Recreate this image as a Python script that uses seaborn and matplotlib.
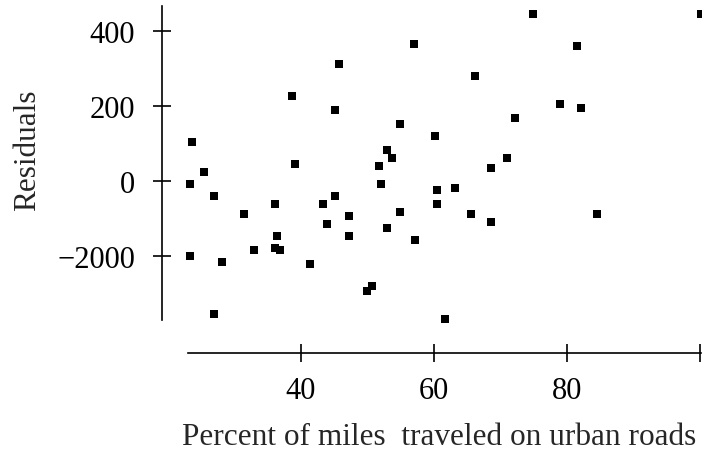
import matplotlib
matplotlib.use("Agg")
import matplotlib.pyplot as plt
import seaborn as sns
import pandas as pd

# Residuals against percent of miles traveled on urban roads
urban_pct = [23.6, 23.3, 25.4, 26.9, 23.3, 28.1, 26.9, 31.5, 33.0, 36.2,
             36.5, 36.2, 36.9, 38.65, 39.2, 41.35, 43.4, 44.0, 45.2, 45.2,
             45.8, 47.3, 47.3, 50.0, 50.7, 51.8, 52.1, 53.0, 53.7, 53.0,
             54.9, 54.9, 57.0, 57.2, 60.25, 60.55, 60.55, 61.7, 63.25, 65.6,
             66.2, 68.6, 68.6, 71.0, 72.2, 74.9, 78.9, 81.55, 82.15, 84.55,
             100.2]
residuals = [104, -7, 24, -40, -199, -216, -355, -88, -184, -61,
             -147, -178, -183, 227, 46, -221, -61, -115, -40, 190,
             313, -93, -147, -292, -280, 41, -7, 83, 61, -125,
             -81, 153, 366, -157, 121, -23, -61, -366, -19, -88,
             281, 35, -109, 61, 168, 446, 205, 361, 195, -88,
             446]

x_ticks = [40, 60, 80, 100]
x_tick_labels = ["40", "60", "80", ""]
y_ticks = [400, 200, 0, -200]
y_tick_labels = ["400", "200", "0", "\u22122000"]

df = pd.DataFrame({"urban": urban_pct, "resid": residuals})

sns.set_style("white")
plt.rcParams["font.family"] = ["Liberation Serif", "DejaVu Serif"]
plt.rcParams["font.size"] = 22

W, H = 702, 452
fig = plt.figure(figsize=(W / 100, H / 100), dpi=100)
# axes box in pixels: left 162, right 701, top 7, bottom 354
ax = fig.add_axes([162 / W, (H - 354) / H, (701 - 162) / W, (354 - 7) / H])

sns.scatterplot(data=df, x="urban", y="resid", marker="s", s=38,
                color="black", linewidth=0, ax=ax, clip_on=False, zorder=3)

ax.set_xlim(19.16, 100.14)
ax.set_ylim(-457.8, 467.5)

for side in ["top", "right"]:
    ax.spines[side].set_visible(False)
for side in ["left", "bottom"]:
    ax.spines[side].set_linewidth(1.2)
    ax.spines[side].set_color("black")
ax.spines["bottom"].set_bounds(23.0, 100.14)
ax.spines["left"].set_bounds(-370, 467.5)

ax.set_xticks(x_ticks)
ax.set_xticklabels(x_tick_labels)
ax.set_yticks(y_ticks)
ax.set_yticklabels(y_tick_labels)
ax.tick_params(axis="both", which="major", bottom=True, left=True,
               direction="inout", length=12.5, width=1.2,
               color="black", labelcolor="black", labelsize=22)
ax.tick_params(axis="x", pad=10)
ax.tick_params(axis="y", pad=13)

ax.set_xlabel("Percent of miles  traveled on urban roads", fontsize=22.5)
ax.set_ylabel("Residuals", fontsize=22.5)
ax.xaxis.set_label_coords(0.514, -0.2)
ax.yaxis.set_label_coords(-0.222, 0.588)

fig.savefig("out.png", dpi=100, facecolor="white")
